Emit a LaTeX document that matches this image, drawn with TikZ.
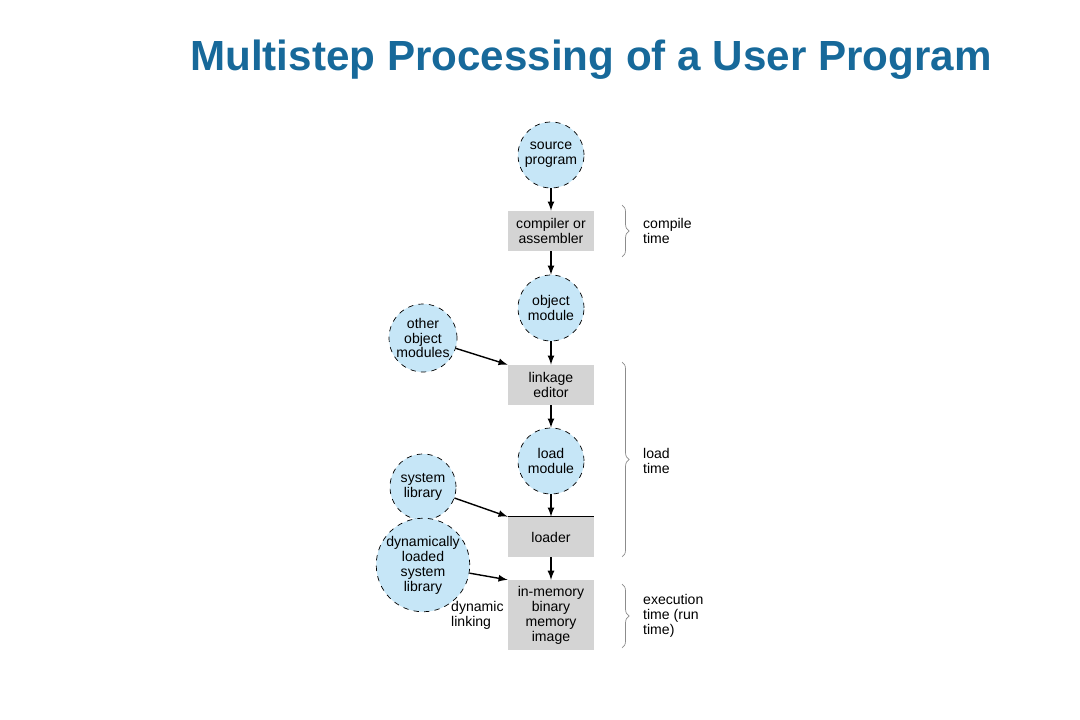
\documentclass[tikz,border=0pt]{standalone}
\usepackage{fontspec}
\setmainfont{Liberation Sans}
\usetikzlibrary{arrows,decorations.pathreplacing}
\definecolor{titleblue}{HTML}{17699A}
\definecolor{circfill}{HTML}{C6E6F7}
\definecolor{boxfill}{HTML}{D4D4D4}
\begin{document}
\begin{tikzpicture}[x=0.02cm,y=-0.02cm,
stage/.style={
		circle,
		draw=black,
		dashed,
		fill=circfill,
		minimum size=66*0.02cm,
		inner sep=0pt,
		align=center,
		font=\fontsize{8}{8.5}\selectfont,
		},
tool/.style={
		rectangle,
		fill=boxfill,
		minimum width=86*0.02cm,
		minimum height=40*0.02cm,
		align=center,
		font=\fontsize{8}{8.5}\selectfont,
		},
lbl/.style={align=left, anchor=west, font=\fontsize{8}{8.5}\selectfont},
flow/.style={->, >=latex, thick},
span/.style={decorate, decoration={brace, amplitude=4pt}, draw=black!45}
]
\useasboundingbox (0,0) rectangle (1080,720);

\node[font=\fontsize{24}{28}\bfseries\selectfont, text=titleblue] (title) at (591,60) {Multistep Processing of a User Program};

% main chain
\node[stage] (src) at (551,155) {source\\program};
\node[tool] (comp) at (551,231) {compiler or\\assembler};
\node[stage] (obj) at (551,308) {object\\module};
\node[tool] (link) at (551,385) {linkage\\editor};
\node[stage] (load) at (551,461) {load\\module};
\node[tool] (ldr) at (551,537) {loader};
\node[tool, minimum height=63*0.02cm] (mem) at (551,615) {in-memory\\binary\\memory\\image};
\draw[semithick] (ldr.north west) -- (ldr.north east);

% side inputs
\node[stage, minimum size=68*0.02cm] (other) at (423,338) {other\\object\\modules};
\node[stage] (sys) at (423,487) {system\\library};
\node[stage, minimum size=84*0.02cm] (dyn) at (423,565) {dynamically\\loaded\\system\\library};
\node[lbl] (dlink) at (445,615) {dynamic\\linking};

\foreach \a/\b in {src/comp, comp/obj, obj/link, link/load, load/ldr, ldr/mem}
  \draw[flow] (\a) -- (\b);
\draw[flow] (other) -- (link.north west);
\draw[flow] (sys) -- (ldr.north west);
\draw[flow] (dyn) -- (mem.north west);

% times
\coordinate (c1) at (622,205); \coordinate (c2) at (622,257);
\coordinate (l1) at (622,362); \coordinate (l2) at (622,557);
\coordinate (e1) at (622,584); \coordinate (e2) at (622,648);
\draw[span] (c1) -- (c2);
\draw[span] (l1) -- (l2);
\draw[span] (e1) -- (e2);
\node[lbl] (ct) at (637,231) {compile\\time};
\node[lbl] (lt) at (637,461) {load\\time};
\node[lbl] (et) at (637,616) {execution\\time (run\\time)};

\end{tikzpicture}
\end{document}
